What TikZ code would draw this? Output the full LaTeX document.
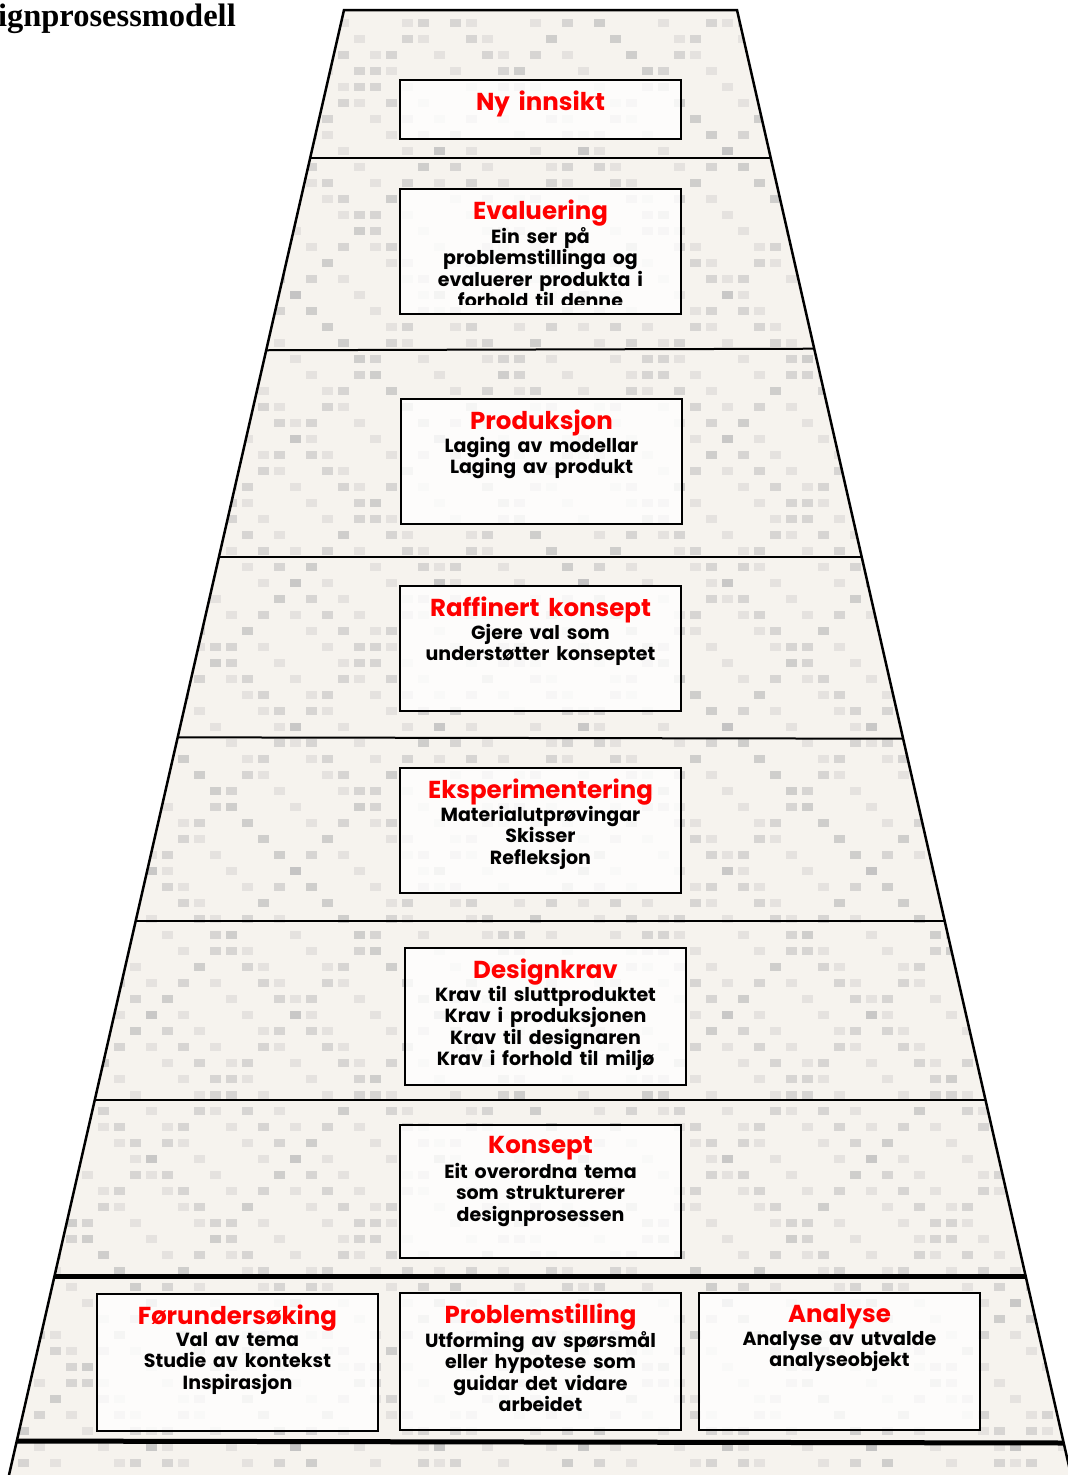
\documentclass[tikz,border=0pt]{standalone}
\usepackage{fontspec}
\setmainfont{Poppins}[BoldFont={Poppins Bold},WordSpace=1.7]
\newfontfamily\headfont{Liberation Serif}
\definecolor{lacebg}{RGB}{246,243,238}
\definecolor{lacegray}{RGB}{190,190,190}
\definecolor{ttlred}{RGB}{255,0,0}
\tikzset{
  side/.style={line width=2.5pt,black},
  thinsep/.style={line width=2pt,black},
  thicksep/.style={line width=5pt,black},
  box/.style={draw=black,line width=2pt,fill=white,fill opacity=0.8,minimum width=281pt,inner sep=0pt},
  ttl/.style={anchor=north,inner sep=0pt,text=ttlred,font=\bfseries\fontsize{24.5}{25}\selectfont},
  body/.style={anchor=north,inner sep=0pt,align=center,font=\bfseries\fontsize{19}{21.5}\selectfont}
}
\begin{document}
\begin{tikzpicture}[x=1pt,y=-1pt]
\clip (0,0) rectangle (1068,1475);
\fill[white] (0,0) rectangle (1068,1475);
\coordinate (TL) at (344,10);
\coordinate (TR) at (737,10);
\coordinate (BL) at (9,1475);
\coordinate (BR) at (1071,1475);
\begin{scope}
  \clip (TL)--(TR)--(BR)--(BL)--cycle;
  \fill[lacebg] (0,0) rectangle (1068,1475);
  \foreach \i in {0,...,66} {
    \foreach \j in {0,...,92} {
      \pgfmathtruncatemacro{\a}{mod(\i+\j,9)}
      \pgfmathtruncatemacro{\b}{mod(\i-\j+900,9)}
      \pgfmathtruncatemacro{\c}{mod(\i*7+\j*13,4)}
      \ifnum\a=0 \fill[lacegray,opacity=0.55] (\i*16+2,\j*16+3) rectangle ++(11,8);\fi
      \ifnum\b=0 \fill[lacegray,opacity=0.55] (\i*16+2,\j*16+3) rectangle ++(11,8);\fi
      \ifnum\c=0 \fill[lacegray,opacity=0.3] (\i*16+2,\j*16+3) rectangle ++(11,8);\fi
    }
  }
  \draw[thinsep] (0,158) -- (1068,158);
  \draw[thinsep] (0,351) -- (1068,348);
  \draw[thinsep] (0,557) -- (1068,557);
  \draw[thinsep] (0,737) -- (1068,739);
  \draw[thinsep] (0,921) -- (1068,921);
  \draw[thinsep] (0,1100) -- (1068,1100);
  \draw[thicksep] (0,1276) -- (1068,1276);
  \draw[thicksep] (0,1441) -- (1068,1443);
\end{scope}
\draw[side,line join=miter] (BL) -- (TL) -- (TR) -- (BR);

\node[anchor=base east,inner sep=0pt,font=\headfont\bfseries\fontsize{32.5}{32.5}\selectfont] (head) at (236,26) {Designprosessmodell};

% boxes
\node[box,minimum height=59pt] (ny) at (540.5,109.5) {};
\node[ttl] (nyt) at ([yshift=-12]ny.north) {Ny innsikt};

\node[box,minimum height=125pt] (ev) at (540.5,251.5) {};
\node[ttl] (evt) at ([yshift=-12]ev.north) {Evaluering};
\begin{scope}
  \clip ([xshift=2,yshift=-2]ev.north west) rectangle ([xshift=-2]ev.east |- 0,304);
  \node[body] (evb) at ([yshift=-39]ev.north) {Ein ser på\\problemstillinga og\\evaluerer produkta i\\forhold til denne};
\end{scope}

\node[box,minimum height=125pt] (pr) at (541.5,461.5) {};
\node[ttl] (prt) at ([yshift=-12]pr.north) {Produksjon};
\node[body] (prb) at ([yshift=-39]pr.north) {Laging av modellar\\Laging av produkt};

\node[box,minimum height=125pt] (rk) at (540.5,648.5) {};
\node[ttl] (rkt) at ([yshift=-12]rk.north) {Raffinert konsept};
\node[body] (rkb) at ([yshift=-39]rk.north) {Gjere val som\\understøtter konseptet};

\node[box,minimum height=125pt] (ek) at (540.5,830.5) {};
\node[ttl] (ekt) at ([yshift=-12]ek.north) {Eksperimentering};
\node[body] (ekb) at ([yshift=-39]ek.north) {Materialutprøvingar\\Skisser\\Refleksjon};

\node[box,minimum height=137pt] (dk) at (545.5,1016.5) {};
\node[ttl] (dkt) at ([yshift=-12]dk.north) {Designkrav};
\node[body] (dkb) at ([yshift=-39]dk.north) {Krav til sluttproduktet\\Krav i produksjonen\\Krav til designaren\\Krav i forhold til miljø};

\node[box,minimum height=133pt] (ko) at (540.5,1191.5) {};
\node[ttl] (kot) at ([yshift=-12]ko.north) {Konsept};
\node[body] (kob) at ([yshift=-39]ko.north) {Eit overordna tema\\som strukturerer\\designprosessen};

\node[box,minimum height=137pt] (fu) at (237.5,1362.5) {};
\node[ttl] (fut) at ([yshift=-12]fu.north) {Førundersøking};
\node[body] (fub) at ([yshift=-39]fu.north) {Val av tema\\Studie av kontekst\\Inspirasjon};

\node[box,minimum height=137pt] (ps) at (540.5,1361.5) {};
\node[ttl] (pst) at ([yshift=-12]ps.north) {Problemstilling};
\node[body] (psb) at ([yshift=-39]ps.north) {Utforming av spørsmål\\eller hypotese som\\guidar det vidare\\arbeidet};

\node[box,minimum height=137pt] (an) at (839.5,1361.5) {};
\node[ttl] (ant) at ([yshift=-12]an.north) {Analyse};
\node[body] (anb) at ([yshift=-39]an.north) {Analyse av utvalde\\analyseobjekt};
\end{tikzpicture}
\end{document}
